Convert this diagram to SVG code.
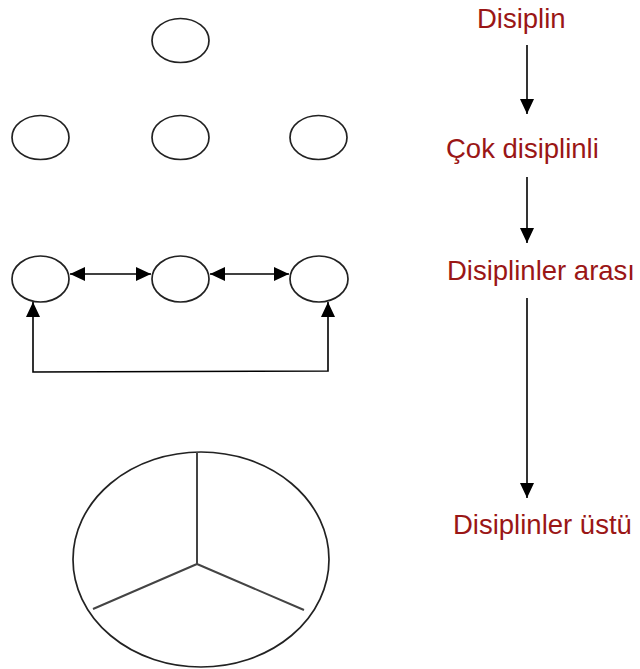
<svg xmlns="http://www.w3.org/2000/svg" width="640" height="669" viewBox="0 0 640 669">
<style>
.node{fill:#fff;stroke:#222;stroke-width:1.7}
.conn{stroke:#000;stroke-width:1.6;fill:none}
.spoke{stroke:#444;stroke-width:2;fill:none}
.lbl{font-family:"Liberation Sans",Arial,sans-serif;font-size:27.5px;fill:#9a1616}
</style>
<defs>
<marker id="ah" viewBox="0 0 15 14" refX="15" refY="7" markerWidth="15" markerHeight="14" markerUnits="userSpaceOnUse" orient="auto-start-reverse">
<path d="M0,0 L15,7 L0,14 z" fill="#000"/>
</marker>
</defs>
<rect width="640" height="669" fill="#fff"/>
<g id="n-top"><ellipse class="node" cx="180.5" cy="40.5" rx="28.5" ry="22"/></g>
<g id="n-r2-1"><ellipse class="node" cx="40.5" cy="137.5" rx="28.5" ry="22"/></g>
<g id="n-r2-2"><ellipse class="node" cx="180.5" cy="137.5" rx="28.5" ry="22"/></g>
<g id="n-r2-3"><ellipse class="node" cx="318.5" cy="137.5" rx="28.5" ry="22"/></g>
<g id="n-r3-1"><ellipse class="node" cx="40.5" cy="279" rx="28.5" ry="23"/></g>
<g id="n-r3-2"><ellipse class="node" cx="180.5" cy="279" rx="28.5" ry="23"/></g>
<g id="n-r3-3"><ellipse class="node" cx="319" cy="279" rx="29" ry="23"/></g>
<g id="n-pie">
<ellipse class="node" cx="201" cy="559.5" rx="128" ry="107.5"/>
<path class="spoke" d="M197,452 L197,564 M197,564 L93,609 M197,564 L304,610"/>
</g>
<g id="labels">
<text class="lbl" x="477" y="28">Disiplin</text>
<text class="lbl" x="446" y="158">Çok disiplinli</text>
<text class="lbl" x="447" y="280">Disiplinler arası</text>
<text class="lbl" x="453" y="534">Disiplinler üstü</text>
</g>
<g id="connectors">
<line class="conn" x1="70" y1="274" x2="151" y2="274" marker-start="url(#ah)" marker-end="url(#ah)"/>
<line class="conn" x1="210" y1="274" x2="289" y2="274" marker-start="url(#ah)" marker-end="url(#ah)"/>
<path class="conn" d="M33,302 L33,372 L328,371 L328,302" marker-start="url(#ah)" marker-end="url(#ah)"/>
<line class="conn" x1="527" y1="45" x2="527" y2="114" marker-end="url(#ah)"/>
<line class="conn" x1="527" y1="177" x2="527" y2="243" marker-end="url(#ah)"/>
<line class="conn" x1="527" y1="298" x2="527" y2="498" marker-end="url(#ah)"/>
</g>
</svg>
